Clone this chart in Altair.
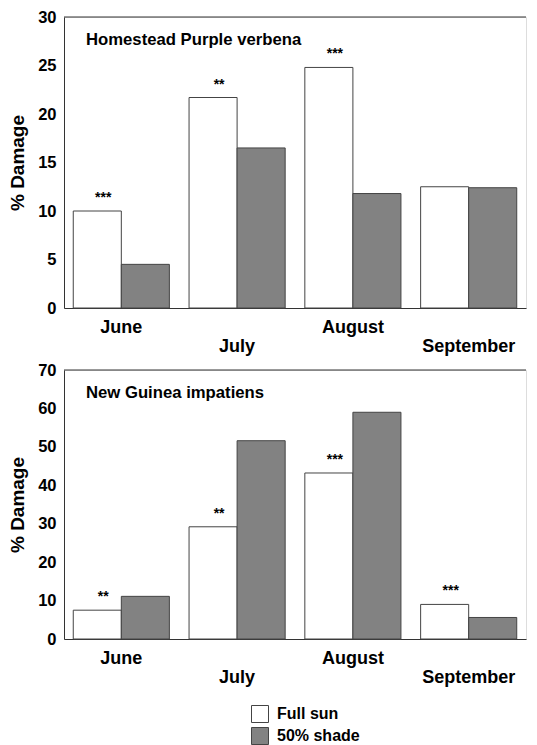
import altair as alt
import pandas as pd

months = ["June", "July", "August", "September"]
label_row = [0, 1, 0, 1]
treatments = ["Full sun", "50% shade"]

verbena_title = "Homestead Purple verbena"
verbena_full = [10.0, 21.7, 24.8, 12.5]
verbena_shade = [4.5, 16.5, 11.8, 12.4]
verbena_sig = ["***", "**", "***", ""]
verbena_ticks = [0, 5, 10, 15, 20, 25, 30]

impatiens_title = "New Guinea impatiens"
impatiens_full = [7.5, 29.2, 43.2, 9.0]
impatiens_shade = [11.1, 51.6, 59.0, 5.6]
impatiens_sig = ["**", "**", "***", "***"]
impatiens_ticks = [0, 10, 20, 30, 40, 50, 60, 70]

FONT = "Liberation Sans"
W = 462


def panel(title, full, shade, sig, ticks, height):
    rows = []
    for i, m in enumerate(months):
        rows.append({"month": m, "treatment": treatments[0], "value": full[i], "sig": sig[i]})
        rows.append({"month": m, "treatment": treatments[1], "value": shade[i], "sig": ""})
    df = pd.DataFrame(rows)
    lab = pd.DataFrame({"month": months, "row": label_row})
    tdf = pd.DataFrame({"t": [title]})

    xaxis = alt.Axis(title=None, labels=False, ticks=False, domain=True,
                     domainColor="#333", domainWidth=1)
    xscale = alt.Scale(domain=months, paddingInner=0.17, paddingOuter=0.08)
    xo = alt.XOffset("treatment:N", sort=treatments,
                     scale=alt.Scale(domain=treatments, paddingInner=0, paddingOuter=0))
    yscale = alt.Scale(domain=[ticks[0], ticks[-1]], nice=False, zero=True)
    yaxis = alt.Axis(values=ticks, title="% Damage", grid=False, ticks=False,
                     labelOverlap=False, tickCount=len(ticks),
                     domainColor="#333", domainWidth=1, labelPadding=8,
                     labelFont=FONT, labelFontSize=16.5, labelFontWeight="bold",
                     labelColor="black", titleFont=FONT, titleFontSize=19,
                     titleFontWeight="bold", titleColor="black", titlePadding=10)

    bars = alt.Chart(df).mark_bar(stroke="#444", strokeWidth=1).encode(
        x=alt.X("month:N", sort=months, scale=xscale, axis=xaxis), xOffset=xo,
        y=alt.Y("value:Q", scale=yscale, axis=yaxis),
        fill=alt.Fill("treatment:N",
                      scale=alt.Scale(domain=treatments, range=["white", "#828282"]),
                      legend=alt.Legend(title=None, orient="none", legendX=187, legendY=688,
                                        symbolType="square", symbolSize=289,
                                        symbolStrokeColor="#444", symbolStrokeWidth=1,
                                        labelFont=FONT, labelFontSize=16,
                                        labelFontWeight="bold", labelColor="black",
                                        rowPadding=0, labelOffset=8)),
    )
    stars = alt.Chart(df).transform_filter(alt.datum.sig != "").mark_text(
        font=FONT, fontSize=14, fontWeight="bold", baseline="bottom", dy=-6, dx=6,
        color="black").encode(
        x=alt.X("month:N", sort=months, scale=xscale, axis=xaxis), xOffset=xo,
        y=alt.Y("value:Q", scale=yscale, axis=yaxis), text="sig:N")
    top_rule = alt.Chart(tdf).mark_rule(color="#333", strokeWidth=1).encode(
        x=alt.value(0), x2=alt.value(W), y=alt.value(0))
    ttl = alt.Chart(tdf).mark_text(font=FONT, fontSize=16.7, fontWeight="bold",
                                   align="left", baseline="middle", color="black").encode(
        x=alt.value(22), y=alt.value(23), text="t:N")
    lab1 = alt.Chart(lab).transform_filter(alt.datum.row == 0).mark_text(
        font=FONT, fontSize=18, fontWeight="bold", baseline="middle", color="black").encode(
        x=alt.X("month:N", sort=months, scale=xscale, axis=xaxis),
        y=alt.value(height + 20), text="month:N")
    lab2 = alt.Chart(lab).transform_filter(alt.datum.row == 1).mark_text(
        font=FONT, fontSize=18, fontWeight="bold", baseline="middle", color="black").encode(
        x=alt.X("month:N", sort=months, scale=xscale, axis=xaxis),
        y=alt.value(height + 39), text="month:N")
    return alt.layer(bars, stars, top_rule, ttl, lab1, lab2).properties(width=W, height=height)


top = panel(verbena_title, verbena_full, verbena_shade, verbena_sig, verbena_ticks, 291)
bottom = panel(impatiens_title, impatiens_full, impatiens_shade, impatiens_sig, impatiens_ticks, 269)

chart = alt.vconcat(top, bottom, spacing=4).properties(padding=0).configure_view(
    stroke=None).configure(background="white")

chart.save("out.html", embed_options={"renderer": "svg", "actions": False})
